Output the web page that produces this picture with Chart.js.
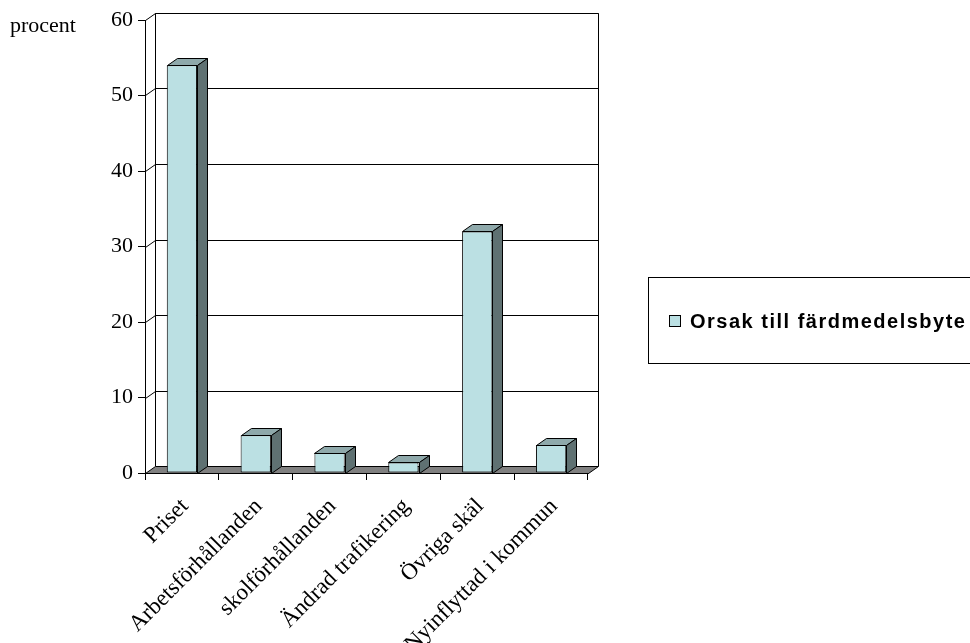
<!DOCTYPE html>
<html>
<head>
<meta charset="utf-8">
<script src="https://cdn.jsdelivr.net/npm/chart.js@4"></script>
<style>
  body { margin: 0; background: #fff; }
</style>
</head>
<body>
<canvas id="chart" width="970" height="643"></canvas>
<script>
const categories = [
  "Priset",
  "Arbetsförhållanden",
  "skolförhållanden",
  "Ändrad trafikering",
  "Övriga skäl",
  "Nyinflyttad i kommun"
];
const values = [54, 5, 2.7, 1.4, 32, 3.7];
const seriesLabel = "Orsak till färdmedelsbyte";
const yUnit = "procent";

const frontColor = "#BBE0E3";
const topColor = "#8FA9AB";
const sideColor = "#5F7172";
const depthX = 10;
const depthY = -7;
const serif = "'Liberation Serif', 'Times New Roman', serif";

function line(ctx, pts) {
  ctx.beginPath();
  ctx.moveTo(pts[0][0], pts[0][1]);
  for (let i = 1; i < pts.length; i++) ctx.lineTo(pts[i][0], pts[i][1]);
}

// walls, grid lines on back wall, floor; then 3d faces on bars
const box3d = {
  id: "box3d",
  beforeDatasetsDraw(chart) {
    const ctx = chart.ctx;
    const area = chart.chartArea;
    const y = chart.scales.y;
    const left = Math.round(area.left) + 0.5;
    const right = Math.round(area.right) + 0.5;
    const top = Math.round(y.getPixelForValue(y.max)) + 0.5;
    const bottom = Math.round(y.getPixelForValue(0)) + 0.5;
    ctx.save();
    ctx.strokeStyle = "#000";
    ctx.lineWidth = 1;
    // back wall
    line(ctx, [
      [left + depthX, bottom + depthY],
      [left + depthX, top + depthY],
      [right + depthX, top + depthY],
      [right + depthX, bottom + depthY]
    ]);
    ctx.stroke();
    // grid lines
    y.ticks.forEach((t) => {
      if (t.value === 0) return;
      const py = Math.round(y.getPixelForValue(t.value)) + 0.5;
      line(ctx, [
        [left, py],
        [left + depthX, py + depthY],
        [right + depthX, py + depthY]
      ]);
      ctx.stroke();
    });
    // floor
    line(ctx, [
      [left, bottom],
      [right, bottom],
      [right + depthX, bottom + depthY],
      [left + depthX, bottom + depthY]
    ]);
    ctx.closePath();
    ctx.fillStyle = "#808080";
    ctx.fill();
    ctx.stroke();
    ctx.restore();
  },
  afterDatasetsDraw(chart) {
    const ctx = chart.ctx;
    const meta = chart.getDatasetMeta(0);
    ctx.save();
    ctx.strokeStyle = "#000";
    ctx.lineWidth = 1;
    meta.data.forEach((bar) => {
      const p = bar.getProps(["x", "y", "base", "width"], true);
      const l = Math.round(p.x - p.width / 2) + 0.5;
      const r = Math.round(p.x + p.width / 2) + 0.5;
      const t = Math.round(p.y) + 0.5;
      const b = Math.round(p.base) + 0.5;
      line(ctx, [[l, t], [r, t], [r + depthX, t + depthY], [l + depthX, t + depthY]]);
      ctx.closePath();
      ctx.fillStyle = topColor;
      ctx.fill();
      ctx.stroke();
      line(ctx, [[r, t], [r + depthX, t + depthY], [r + depthX, b + depthY], [r, b]]);
      ctx.closePath();
      ctx.fillStyle = sideColor;
      ctx.fill();
      ctx.stroke();
    });
    ctx.restore();
  },
  afterDraw(chart) {
    const ctx = chart.ctx;
    ctx.save();
    // unit label
    ctx.fillStyle = "#000";
    ctx.font = "22px " + serif;
    ctx.textBaseline = "alphabetic";
    ctx.fillText(yUnit, 10, 32);
    // legend box
    ctx.strokeStyle = "#000";
    ctx.lineWidth = 1;
    ctx.strokeRect(648.5, 277.5, 340, 86);
    ctx.fillStyle = frontColor;
    ctx.fillRect(669.5, 315.5, 11, 11);
    ctx.strokeRect(669.5, 315.5, 11, 11);
    ctx.fillStyle = "#000";
    ctx.font = "bold 20px 'Liberation Sans', Arial, sans-serif";
    ctx.letterSpacing = "1.5px";
    ctx.fillText(seriesLabel, 690, 328);
    ctx.restore();
  }
};

new Chart(document.getElementById("chart"), {
  type: "bar",
  data: {
    labels: categories,
    datasets: [
      {
        label: seriesLabel,
        data: values,
        backgroundColor: frontColor,
        borderColor: "#000",
        borderWidth: 1,
        borderSkipped: false,
        barPercentage: 0.41,
        categoryPercentage: 1
      }
    ]
  },
  options: {
    responsive: false,
    animation: false,
    devicePixelRatio: 1,
    layout: { padding: { left: 0, top: 20, right: 382, bottom: 0 } },
    plugins: {
      legend: { display: false },
      tooltip: { enabled: false }
    },
    scales: {
      x: {
        offset: true,
        grid: { offset: true, drawOnChartArea: false, tickLength: 7, color: "#000" },
        border: { color: "#000" },
        ticks: {
          autoSkip: false,
          minRotation: 45,
          maxRotation: 45,
          padding: 13,
          labelOffset: 3,
          color: "#000",
          font: { family: serif, size: 23 }
        },
        afterFit(scale) { scale.height = 170; }
      },
      y: {
        min: 0,
        max: 60,
        grid: { drawOnChartArea: false, tickLength: 7, color: "#000" },
        border: { color: "#000" },
        ticks: {
          stepSize: 10,
          padding: 5,
          color: "#000",
          font: { family: serif, size: 22 }
        },
        afterFit(scale) { scale.width = 145; }
      }
    }
  },
  plugins: [box3d]
});
</script>
</body>
</html>
